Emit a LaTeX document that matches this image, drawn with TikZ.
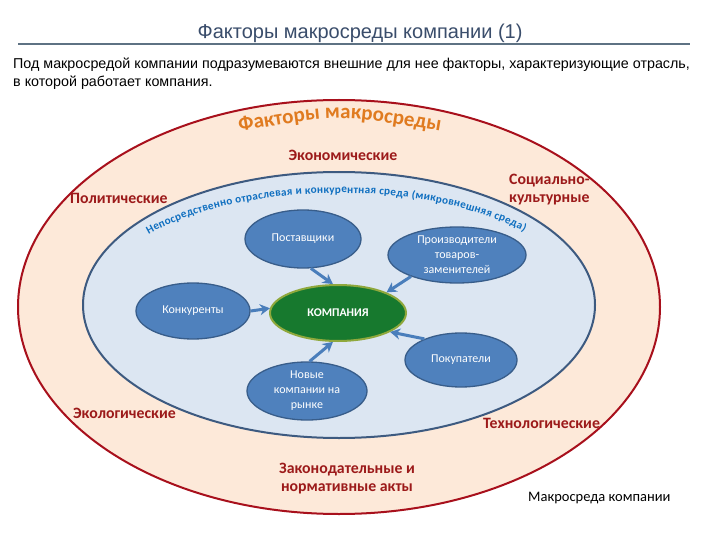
\documentclass[tikz,border=0pt]{standalone}
\usepackage{fontspec}
\setmainfont{Liberation Sans}
\newfontfamily\calib{Carlito}
\usetikzlibrary{shapes.geometric,arrows.meta,decorations.text}
\definecolor{titleC}{HTML}{3A4D6B}
\definecolor{ruleC}{HTML}{5E7283}
\definecolor{outerF}{HTML}{FDE9D9}
\definecolor{outerD}{HTML}{A8101C}
\definecolor{innerF}{HTML}{DCE6F2}
\definecolor{innerD}{HTML}{3D5A80}
\definecolor{nodeF}{HTML}{4F81BD}
\definecolor{nodeD}{HTML}{385D8A}
\definecolor{compF}{HTML}{17792E}
\definecolor{compD}{HTML}{8FA83C}
\definecolor{redT}{HTML}{9C1A1A}
\definecolor{blueT}{HTML}{0F6FC0}
\definecolor{orangeT}{HTML}{E07B20}
\definecolor{arrC}{HTML}{4A7EBB}
\begin{document}
\begin{tikzpicture}[x=1pt,y=-1pt,
 factor/.style={text=redT, font=\calib\bfseries\fontsize{15.8}{18}\selectfont, align=left, inner sep=0},
 unit/.style={ellipse, fill=nodeF, draw=nodeD, line width=1.3pt, text=white, font=\calib\fontsize{12}{15}\selectfont, align=center, inner sep=0},
 arr/.style={draw=arrC, line width=3pt, -{Stealth[length=10pt,width=11pt]}},
]
\useasboundingbox (0,0) rectangle (720,540);
\fill[white] (0,0) rectangle (720,540);
\node[text=titleC, font=\fontsize{20}{24}\selectfont] (title) at (360,33) {Факторы макросреды компании (1)};
\draw[ruleC, line width=2pt] (18,44) -- (690,44);
\node[anchor=north west, align=left, font=\fontsize{14.3}{18}\selectfont, inner sep=0] (intro) at (13,58) {Под макросредой компании подразумеваются внешние для нее факторы, характеризующие отрасль,\\в которой работает компания.};

\draw[fill=outerF, draw=outerD, line width=2pt] (339,307) ellipse [x radius=321, y radius=207];
\draw[fill=innerF, draw=innerD, line width=2pt] (339,305) ellipse [x radius=256, y radius=133];

\path[decorate, decoration={text along path, text align=center, text color=orangeT,
  text={|\calib\bfseries\fontsize{21}{24}\selectfont|Факторы макросреды}}]
  (236,132) .. controls (340,114) .. (444,132);

\path[decorate, decoration={text along path, text align=fit to path, text color=blueT,
  text={|\calib\bfseries\fontsize{11.2}{12}\selectfont|Непосредственно отраслевая и конкурентная среда (микровнешняя среда)}}]
  (339,305) ++(-141:245 and 112) arc[start angle=-141, end angle=-41, x radius=245, y radius=112];

\node[factor] (econ) at (343,155) {Экономические};
\node[factor, anchor=west] (polit) at (70,198) {Политические};
\node[factor, anchor=west] (soc) at (509,190) {Социально-\\культурные};
\node[factor, anchor=west] (eco) at (73,413) {Экологические};
\node[factor, anchor=west] (tech) at (483,423) {Технологические};
\node[factor, align=center] (law) at (347,479) {Законодательные и\\нормативные акты};
\node[anchor=west, font=\calib\fontsize{14.5}{16}\selectfont, inner sep=0] (macro) at (528,498) {Макросреда компании};

\node[unit, minimum width=116pt, minimum height=58pt] (post) at (303,239) {Поставщики};
\node[unit, minimum width=138pt, minimum height=56pt] (prod) at (457,255) {Производители\\товаров-\\заменителей};
\node[unit, minimum width=114pt, minimum height=56pt] (konk) at (193,311) {Конкуренты};
\node[unit, minimum width=112pt, minimum height=54pt] (pokup) at (461,360) {Покупатели};
\node[unit, minimum width=120pt, minimum height=58pt] (novye) at (307,391) {Новые\\компании на\\рынке};
\node[ellipse, fill=compF, draw=compD, line width=2pt, minimum width=136pt, minimum height=56pt, inner sep=0, text=white, font=\calib\bfseries\fontsize{11.8}{13}\selectfont] (comp) at (338,313) {КОМПАНИЯ};

\draw[arr] (post.-75) -- (comp.100);
\draw[arr] (prod.205) -- (comp.23);
\draw[arr] (konk.0) -- (comp.176);
\draw[arr] (pokup.150) -- (comp.-20);
\draw[arr] (novye.85) -- (comp.-100);
\end{tikzpicture}
\end{document}
